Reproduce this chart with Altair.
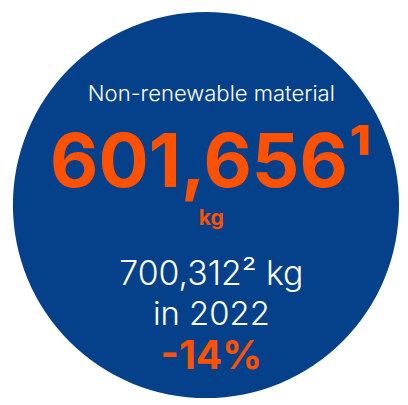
import altair as alt
import pandas as pd

# ---- content ----
title = "Non-renewable material"
value_2023 = "601,656"
note_2023 = "1"
unit = "kg"
value_2022 = "700,312"
note_2022 = "2"
year_label = "in 2022"
change = "-14%"

SUP = str.maketrans("0123456789", "⁰¹²³⁴⁵⁶⁷⁸⁹")

BLUE = "#04418A"
ORANGE = "#FF5100"
WHITE = "#FFFFFF"

# layout (page pixel coordinates, mapped through linear scales)
circle_center = (210, 205)
circle_radius = 197
text_x = 215.5

xs = alt.Scale(domain=[8, 408], range=[0, 400])
ys = alt.Scale(domain=[8, 405], range=[0, 397])


def circle_layer():
    df = pd.DataFrame({"x": [circle_center[0]], "y": [circle_center[1]]})
    return alt.Chart(df).mark_circle(opacity=1, color=BLUE, strokeWidth=0).encode(
        x=alt.X("x:Q", scale=xs, axis=None),
        y=alt.Y("y:Q", scale=ys, axis=None),
        size=alt.value((2 * circle_radius) ** 2),
    )


def text_layer(text, y, size, weight, color):
    df = pd.DataFrame({"t": [text], "x": [text_x], "y": [y]})
    return alt.Chart(df).mark_text(
        align="center", baseline="alphabetic", font="Inter",
        fontSize=size, fontWeight=weight, color=color,
    ).encode(
        x=alt.X("x:Q", scale=xs, axis=None),
        y=alt.Y("y:Q", scale=ys, axis=None),
        text="t:N",
    )


chart = alt.layer(
    circle_layer(),
    text_layer(title, 99, 22.5, 300, WHITE),
    text_layer(value_2023 + note_2023.translate(SUP), 187, 76, 700, ORANGE),
    text_layer(unit, 225, 21.5, 700, ORANGE),
    text_layer(f"{value_2022}{note_2022.translate(SUP)} {unit}", 287, 34.5, 300, WHITE),
    text_layer(year_label, 327, 33.5, 300, WHITE),
    text_layer(change, 372, 40, 700, ORANGE),
).properties(
    width=400, height=397, padding=0, autosize=alt.AutoSizeParams(type="none")
).configure(background="white").configure_view(stroke=None)

chart.save("out.html", embed_options={"renderer": "svg", "actions": False})
